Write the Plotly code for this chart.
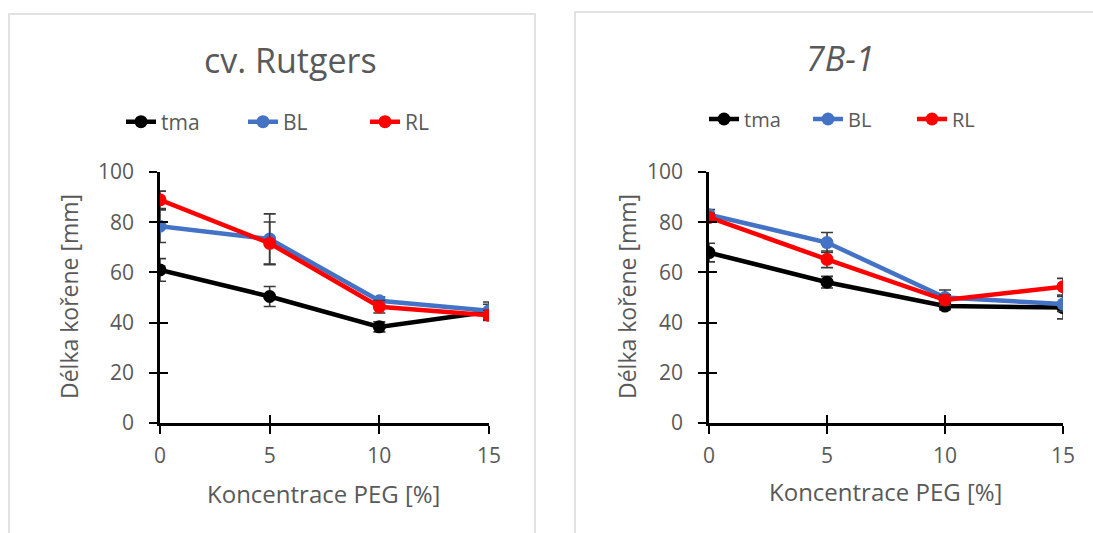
import plotly.graph_objects as go

W, H = 1093, 533

peg = [0, 5, 10, 15]
x_ticks = [0, 5, 10, 15]
y_ticks = [0, 20, 40, 60, 80, 100]

# cv. Rutgers
rut_tma = [61.0, 50.4, 38.3, 44.3]
rut_tma_err = [4.5, 4.0, 2.0, 3.0]
rut_bl = [78.4, 73.3, 48.7, 44.7]
rut_bl_err = [6.5, 10.0, 1.5, 3.5]
rut_rl = [88.9, 71.6, 46.3, 42.9]
rut_rl_err = [3.5, 8.5, 2.5, 2.0]

# 7B-1
b7_tma = [67.9, 56.1, 46.6, 46.0]
b7_tma_err = [3.7, 2.3, 1.5, 4.5]
b7_bl = [83.0, 71.9, 50.0, 47.4]
b7_bl_err = [2.0, 4.0, 3.0, 3.0]
b7_rl = [81.9, 65.2, 49.0, 54.3]
b7_rl_err = [1.5, 3.3, 2.0, 3.3]

series_names = ["tma", "BL", "RL"]
colors = ["#000000", "#4472C4", "#FF0000"]

FONT = "Open Sans"
GRAY = "#595959"

fig = go.Figure()

panels = [
    ("x", "y", "legend", [rut_tma, rut_bl, rut_rl], [rut_tma_err, rut_bl_err, rut_rl_err]),
    ("x2", "y2", "legend2", [b7_tma, b7_bl, b7_rl], [b7_tma_err, b7_bl_err, b7_rl_err]),
]
for xa, ya, lg, vals, errs in panels:
    for name, col, v, e in zip(series_names, colors, vals, errs):
        fig.add_trace(go.Scatter(
            x=peg, y=v, name=name, mode="lines+markers",
            xaxis=xa, yaxis=ya, legend=lg,
            line=dict(color=col, width=4.5),
            marker=dict(color=col, size=13),
            error_y=dict(type="data", array=e, visible=True,
                         color="#3A3A3A", thickness=1.6, width=6),
            hoverinfo="skip",
        ))

# invisible traces to carry the overlay axes used for inner half of cross ticks
for xa, ya, v in [("x3", "y3", rut_tma), ("x4", "y4", b7_tma)]:
    fig.add_trace(go.Scatter(x=peg, y=v, xaxis=xa, yaxis=ya, mode="markers",
                             marker=dict(opacity=0), showlegend=False, hoverinfo="skip"))

ydom = [110 / H, 361 / H]
xdom1 = [160 / W, 489 / W]
xdom2 = [709 / W, 1063 / W]

tickfont = dict(family=FONT, size=21, color=GRAY)

def xaxis(dom, anchor):
    return dict(domain=dom, anchor=anchor, range=[0, 15], tickvals=x_ticks,
                showgrid=False, zeroline=False, showline=True, linecolor="black",
                linewidth=2.5, ticks="outside", ticklen=8, tickwidth=2,
                tickcolor="black", tickfont=tickfont, ticklabelstandoff=4,
                automargin=False)

def yaxis(anchor):
    return dict(domain=ydom, anchor=anchor, range=[0, 100], tickvals=y_ticks,
                showgrid=False, zeroline=False, showline=True, linecolor="black",
                linewidth=2.5, ticks="outside", ticklen=8, tickwidth=2,
                tickcolor="black", tickfont=tickfont, ticklabelstandoff=11,
                automargin=False)

def over_x(dom, over, anchor):
    return dict(domain=dom, overlaying=over, anchor=anchor, range=[0, 15],
                tickvals=x_ticks, showgrid=False, zeroline=False, showline=False,
                ticks="inside", ticklen=8, tickwidth=2, tickcolor="black",
                showticklabels=False, automargin=False)

def over_y(over, anchor):
    return dict(domain=ydom, overlaying=over, anchor=anchor, range=[0, 100],
                tickvals=y_ticks, showgrid=False, zeroline=False, showline=False,
                ticks="inside", ticklen=8, tickwidth=2, tickcolor="black",
                showticklabels=False, automargin=False)

legend_common = dict(orientation="h", xanchor="left", yanchor="middle",
                     bgcolor="rgba(0,0,0,0)", itemclick=False, itemdoubleclick=False,
                     entrywidthmode="pixels")

def bx(px):
    return px / W

def by(px):
    return 1 - px / H

border_l = (f"M {bx(9)},{by(540)} L {bx(9)},{by(14)} L {bx(535)},{by(14)} "
            f"L {bx(535)},{by(540)}")
border_r = f"M {bx(575)},{by(540)} L {bx(575)},{by(12)} L {bx(1100)},{by(12)}"

fig.update_layout(
    width=W, height=H, margin=dict(l=0, r=0, t=0, b=0, autoexpand=False),
    paper_bgcolor="white", plot_bgcolor="rgba(0,0,0,0)",
    font=dict(family=FONT, color=GRAY),
    xaxis=xaxis(xdom1, "y"), yaxis=yaxis("x"),
    xaxis2=xaxis(xdom2, "y2"), yaxis2=yaxis("x2"),
    xaxis3=over_x(xdom1, "x", "y3"), yaxis3=over_y("y", "x3"),
    xaxis4=over_x(xdom2, "x2", "y4"), yaxis4=over_y("y2", "x4"),
    legend=dict(x=bx(121), y=by(122), entrywidth=77,
                font=dict(family=FONT, size=21, color=GRAY), **legend_common),
    legend2=dict(x=bx(704), y=by(119), entrywidth=59,
                 font=dict(family=FONT, size=20, color=GRAY), **legend_common),
    showlegend=True,
    shapes=[
        dict(type="path", xref="paper", yref="paper", path=border_l,
             line=dict(color="#D9D9D9", width=1.5)),
        dict(type="path", xref="paper", yref="paper", path=border_r,
             line=dict(color="#D9D9D9", width=1.5)),
    ],
    annotations=[
        dict(text="cv. Rutgers", x=bx(290), y=by(60), xref="paper", yref="paper",
             showarrow=False, xanchor="center", yanchor="middle",
             font=dict(family=FONT, size=34, color=GRAY)),
        dict(text="<i>7B-1</i>", x=bx(840), y=by(58), xref="paper", yref="paper",
             showarrow=False, xanchor="center", yanchor="middle",
             font=dict(family=FONT, size=34, color=GRAY)),
        dict(text="Délka kořene [mm]", x=bx(69), y=by(297), xref="paper", yref="paper",
             showarrow=False, textangle=-90, xanchor="center", yanchor="middle",
             font=dict(family=FONT, size=23, color=GRAY)),
        dict(text="Délka kořene [mm]", x=bx(627), y=by(297), xref="paper", yref="paper",
             showarrow=False, textangle=-90, xanchor="center", yanchor="middle",
             font=dict(family=FONT, size=23, color=GRAY)),
        dict(text="Koncentrace PEG [%]", x=bx(323), y=by(493), xref="paper", yref="paper",
             showarrow=False, xanchor="center", yanchor="middle",
             font=dict(family=FONT, size=24, color=GRAY)),
        dict(text="Koncentrace PEG [%]", x=bx(885), y=by(491), xref="paper", yref="paper",
             showarrow=False, xanchor="center", yanchor="middle",
             font=dict(family=FONT, size=24, color=GRAY)),
    ],
)

fig.write_html("out.html")
